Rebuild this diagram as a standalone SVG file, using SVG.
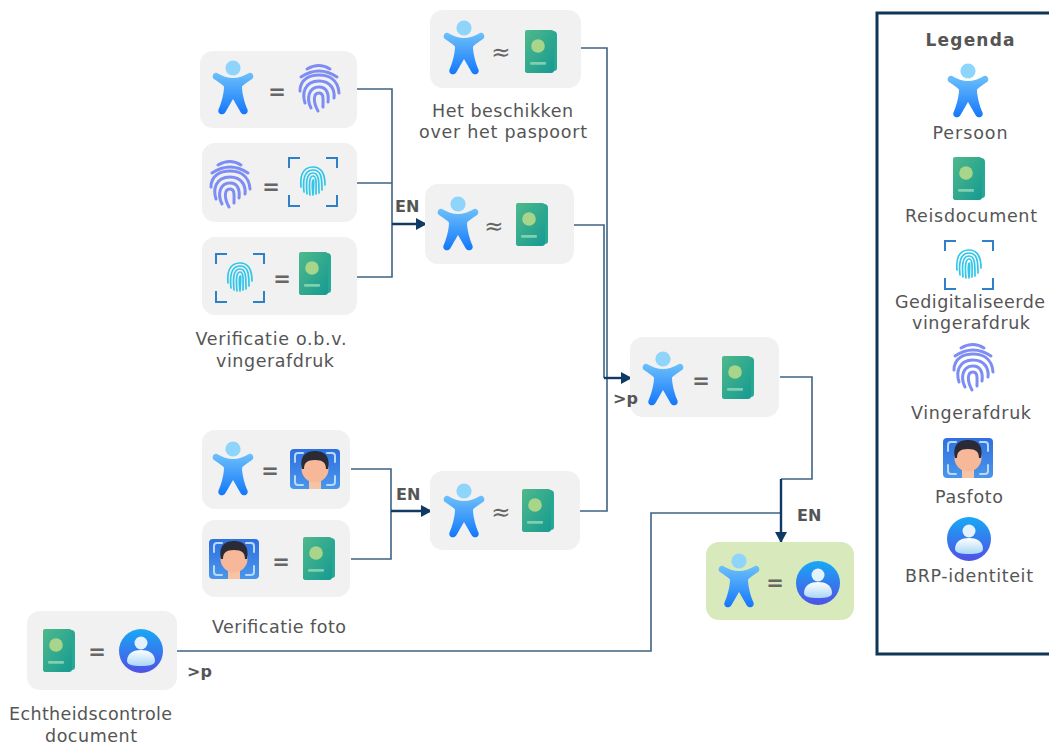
<svg xmlns="http://www.w3.org/2000/svg" width="1049" height="744" viewBox="0 0 1049 744">
<style>
.card{fill:#f1f1f1}
.green{fill:#d8e9bb}
text{font-family:"DejaVu Sans","Liberation Sans",sans-serif;fill:#555}
.lbl{font-size:17.500px;text-anchor:middle}
.b{font-size:16px;font-weight:bold}
.leg{font-size:17px;text-anchor:middle}
.op{font-size:21px;font-weight:bold;text-anchor:middle;fill:#666}
.ap{font-size:23px;text-anchor:middle;fill:#666}
.wire{fill:none;stroke:#3f6384;stroke-width:1.6}
.main{fill:none;stroke:#0f3a63;stroke-width:2.400;marker-end:url(#ah)}
.fp{fill:none;stroke:#7d8df4;stroke-width:3;stroke-linecap:round}
.dfp{fill:none;stroke:#2fc6ea;stroke-width:1.700;stroke-linecap:round}
.brk{fill:none;stroke:#2f80c8;stroke-width:2}
.brk2{fill:none;stroke:#b5dafb;stroke-width:2;stroke-linecap:round}
</style>
<defs>
<marker id="ah" markerUnits="userSpaceOnUse" markerWidth="11" markerHeight="12" refX="10" refY="6" orient="auto"><path d="M0 0L11 6L0 12Z" fill="#0f3a63"/></marker>
<linearGradient id="gp" x1="0" y1="0" x2="0" y2="1"><stop offset="0" stop-color="#6cc0fa"/><stop offset="1" stop-color="#1477fb"/></linearGradient>
<linearGradient id="gd" x1="0" y1="0" x2="1" y2="1"><stop offset="0" stop-color="#4fb98b"/><stop offset="1" stop-color="#169a92"/></linearGradient>
<linearGradient id="gb" x1="0" y1="0" x2="0" y2="1"><stop offset="0" stop-color="#17a9f6"/><stop offset="1" stop-color="#4f51e6"/></linearGradient>
<linearGradient id="gw" x1="0" y1="0" x2="0" y2="1"><stop offset="0" stop-color="#fff"/><stop offset="1" stop-color="#a9d6f7"/></linearGradient>
<linearGradient id="gf" x1="0" y1="0" x2="0" y2="1"><stop offset="0" stop-color="#2f6fe0"/><stop offset="1" stop-color="#4a96ea"/></linearGradient>
<g id="person">
<circle cx="20" cy="8" r="7.600" fill="#8fd4fb"/>
<path fill="url(#gp)" d="M4 13C9 16 15 18 20 18C25 18 31 16 36 13C39.500 11.500 42 17 39 19C35 22 31 24 29 26.500C29 34 32 44 34.500 49.500C36 54.500 29.500 56 27.500 52L20 39L12.500 52C10.500 56 4 54.500 5.500 49.500C8 44 11 34 11 26.500C9 24 5 22 1 19C-2 17 .5 11.500 4 13Z"/>
</g>
<g id="passport">
<path d="M4 1H28Q32 1 32 5V38Q32 41 29 41L24 43H3Q0 43 0 40V4Q0 1 4 1Z" fill="#27a892"/>
<path d="M2 0H26Q29 0 29 3V40Q29 43 26 43H3Q0 43 0 40V2Q0 0 2 0Z" fill="url(#gd)"/>
<circle cx="13" cy="16" r="6.800" fill="#a8d58a"/>
<rect x="5" y="32" width="16" height="2.800" rx="1" fill="#7fcfb0"/>
</g>
<g id="fingerprint">
<path class="fp" d="M9 5Q21 -2 32 5M3 13Q21 1 39 13M2 27C2 15 12 11 21 11C30 11 40 15 41 29M7 39C4 30 6 17 21 17C33 17 37 26 36 34M13 44C8 34 11 23 21 23C29 23 31 30 30 38M20 47C15 38 15 29 21 29C26 29 25 35 25 43"/>
</g>
<g id="digifp">
<path class="brk" d="M1 11V1H12M38 1H49V11M1 38V49H12M38 49H49V38"/>
<path class="dfp" d="M13 30C12 20 14 10 25 10C34 10 37 18 37 28M16 35C15 26 15 13 25 13C33 13 34 20 34 33M19 37C18 26 18 16 25 16C31 16 31 24 31 36M22 38C21 28 21 19 25 19C29 19 28 28 28 37M25 38C24 30 24 23 25.500 23C26 26 25.500 32 25 38"/>
</g>
<g id="photo">
<rect width="50" height="40" rx="4" fill="url(#gf)"/>
<path class="brk2" d="M5 13V7Q5 4 8 4H13M37 4H42Q45 4 45 7V13M5 27V33Q5 36 8 36H13M37 36H42Q45 36 45 33V27"/>
<path d="M19 28H31V40H19Z" fill="#f6c3a5"/>
<ellipse cx="25" cy="20" rx="13.500" ry="13.500" fill="#f6b899"/>
<path d="M12 20C9 6 17 2 25 2C33 2 41 6 38 20L36 20C36 14 33 11 25 11C17 11 14 14 14 20Z" fill="#2a2b35"/>
</g>
<g id="brp">
<circle cx="22" cy="22" r="22" fill="url(#gb)"/>
<circle cx="22" cy="14" r="6.500" fill="#e4f2fd"/>
<path d="M8 32C8 24 15 21 22 21C29 21 36 24 36 32C36 36 30 37 22 37C14 37 8 36 8 32Z" fill="url(#gw)"/>
</g>
</defs>
<g id="connectors">
<path class="wire" d="M357 89H392V277H357M357 183H392M581 48H607V511H580M574 225H604V378M351 469H391V559H351M780 377H812V479H781M177 651H651V513H781"/>
<path class="main" d="M392 224H426"/>
<path class="main" d="M604 378H631"/>
<path class="main" d="M391 511H431"/>
<path class="main" d="M781 479V542"/>
</g>
<g id="node-persoon-vingerafdruk"><rect class="card" x="200" y="51" width="157" height="77" rx="13"/><use href="#person" x="213" y="60"/><text class="op" x="277" y="99">=</text><use href="#fingerprint" x="298" y="64"/></g>
<g id="node-vingerafdruk-digitaal"><rect class="card" x="202" y="143" width="155" height="79" rx="13"/><use href="#fingerprint" x="209" y="160"/><text class="op" x="271" y="194">=</text><use href="#digifp" x="288" y="157"/></g>
<g id="node-digitaal-document"><rect class="card" x="202" y="237" width="155" height="78" rx="13"/><use href="#digifp" x="215" y="253"/><text class="op" x="282" y="286">=</text><use href="#passport" x="299" y="252"/></g>
<g id="node-beschikken"><rect class="card" x="430" y="10" width="151" height="78" rx="13"/><use href="#person" x="444" y="20"/><text class="ap" x="501" y="60">≈</text><use href="#passport" x="525" y="30"/><text class="lbl" x="502.500" y="117" textLength="141">Het beschikken</text><text class="lbl" x="503" y="138" textLength="168">over het paspoort</text></g>
<g id="node-vingerafdruk-resultaat"><rect class="card" x="425" y="184" width="149" height="80" rx="13"/><use href="#person" x="438" y="196"/><text class="ap" x="494" y="234">≈</text><use href="#passport" x="516" y="203"/></g>
<g id="node-persoon-document"><rect class="card" x="630" y="337" width="149" height="80" rx="13"/><use href="#person" x="643" y="351"/><text class="op" x="701" y="388">=</text><use href="#passport" x="722" y="356"/></g>
<g id="node-persoon-foto"><rect class="card" x="202" y="430" width="148" height="79" rx="13"/><use href="#person" x="213" y="441"/><text class="op" x="270" y="478">=</text><use href="#photo" x="290" y="449"/></g>
<g id="node-foto-document"><rect class="card" x="202" y="520" width="148" height="77" rx="13"/><use href="#photo" x="209" y="539"/><text class="op" x="281" y="569">=</text><use href="#passport" x="303" y="537"/></g>
<g id="node-foto-resultaat"><rect class="card" x="430" y="471" width="150" height="79" rx="13"/><use href="#person" x="444" y="483"/><text class="ap" x="501" y="520">≈</text><use href="#passport" x="522" y="489"/></g>
<g id="node-eindresultaat"><rect class="green" x="706" y="542" width="148" height="78" rx="13"/><use href="#person" x="719" y="553"/><text class="op" x="775" y="590">=</text><use href="#brp" x="796" y="561"/></g>
<g id="node-echtheid"><rect class="card" x="27" y="611" width="150" height="79" rx="13"/><use href="#passport" x="43" y="629"/><text class="op" x="97" y="659">=</text><use href="#brp" x="119" y="629"/><text class="lbl" x="90.500" y="720" textLength="163">Echtheidscontrole</text><text class="lbl" x="91" y="742" textLength="92">document</text></g>
<g id="labels">
<text class="lbl" x="271" y="345" textLength="151">Verificatie o.b.v.</text><text class="lbl" x="275" y="367" textLength="118">vingerafdruk</text>
<text class="lbl" x="279" y="633" textLength="134">Verificatie foto</text>
<text class="b" x="395" y="212">EN</text><text class="b" x="396" y="500">EN</text><text class="b" x="797" y="521">EN</text>
<text class="b" x="613" y="404">&gt;p</text><text class="b" x="187" y="677">&gt;p</text>
</g>
<g id="legenda">
<path d="M1049 13H877V654H1049" fill="none" stroke="#0f3557" stroke-width="3"/>
<text class="leg" x="970" y="46" font-weight="bold" textLength="89">Legenda</text>
<use href="#person" x="948" y="63"/><text class="lbl" x="970" y="139" textLength="75">Persoon</text>
<use href="#passport" x="953" y="157"/><text class="lbl" x="971" y="222" textLength="132">Reisdocument</text>
<use href="#digifp" x="944" y="240"/><text class="lbl" x="970" y="308" textLength="150">Gedigitaliseerde</text><text class="lbl" x="971" y="329" textLength="118">vingerafdruk</text>
<use href="#fingerprint" x="952" y="343"/><text class="lbl" x="971" y="419" textLength="120">Vingerafdruk</text>
<use href="#photo" x="943" y="438"/><text class="lbl" x="969" y="503" textLength="68">Pasfoto</text>
<use href="#brp" x="947" y="517"/><text class="lbl" x="969" y="582" textLength="128">BRP-identiteit</text>
</g>
</svg>
